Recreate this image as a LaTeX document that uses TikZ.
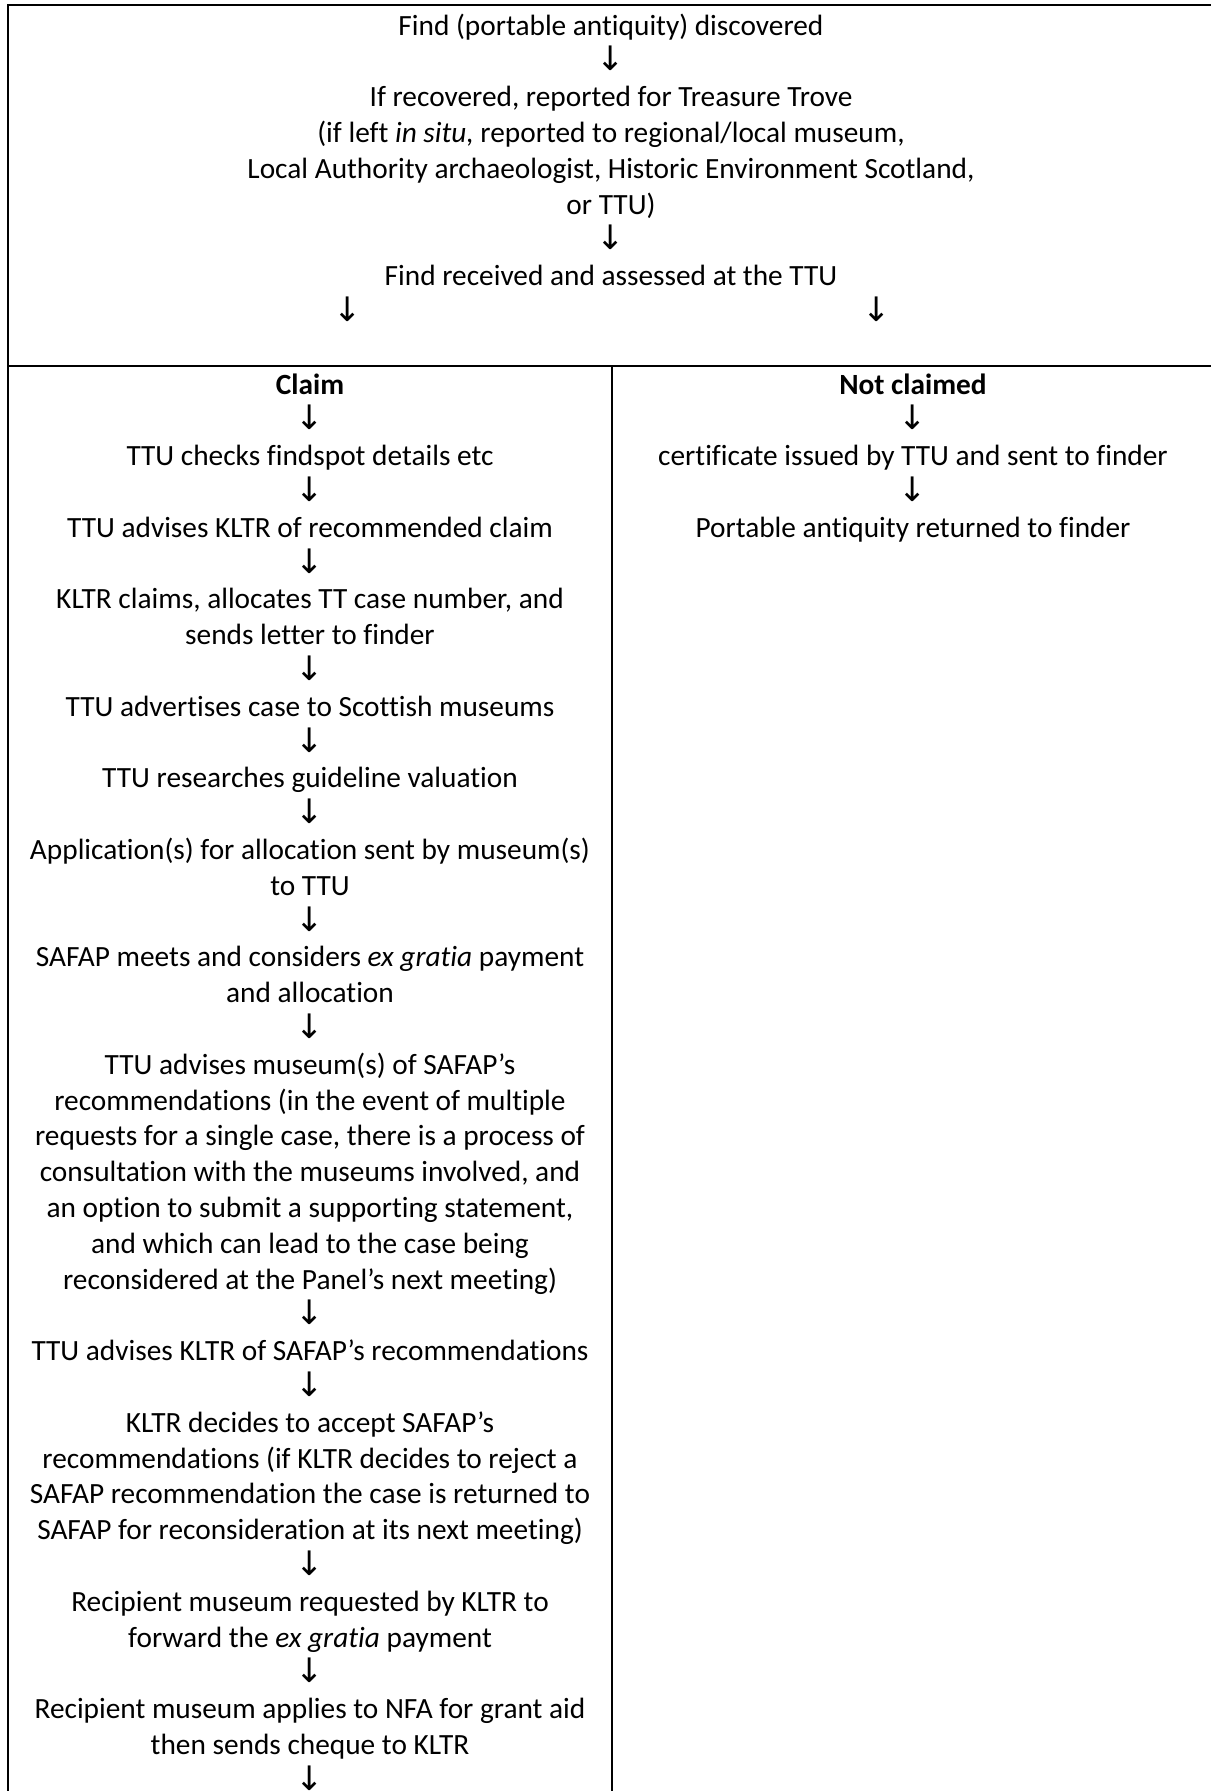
\documentclass[tikz,border=0pt]{standalone}
\usepackage{fontspec}
\setmainfont{Carlito}[Ligatures=NoCommon]
\newfontfamily\arrowfont{DejaVu Sans}[Scale=1.15]
\newcommand\tdown{{\arrowfont ↓}}
\tikzset{
  cell/.style={anchor=base, inner sep=0pt, font=\fontsize{11}{13.42}\selectfont},
  rule/.style={line width=0.75pt}
}
\begin{document}
\begin{tikzpicture}[x=0.375pt, y=-0.375pt]
\useasboundingbox (0,0) rectangle (1211,1791);
\clip (0,0) rectangle (1211,1791);
% table rules
\draw[rule] (7.5,1800) -- (7.5,5) -- (1214,5) -- (1214,1800);
\draw[rule] (7.5,366) -- (1214,366);
\draw[rule] (612,366) -- (612,1800);
% top cell
\foreach \t [count=\i] in {{Find (portable antiquity) discovered}, \tdown,
    {If recovered, reported for Treasure Trove},
    {(if left \textit{in situ,} reported to regional/local museum,},
    {Local Authority archaeologist, Historic Environment Scotland,},
    {or TTU)}, \tdown, {Find received and assessed at the TTU}}
  \node[cell] (top\i) at (611,{35+35.8*(\i-1)}) {\t};
\node[cell] (splitl) at (348,321.4) {\tdown};
\node[cell] (splitr) at (877,321.4) {\tdown};
% claim column
\foreach \t [count=\i] in {{\textbf{Claim}}, \tdown,
    {TTU checks findspot details etc}, \tdown,
    {TTU advises KLTR of recommended claim}, \tdown,
    {KLTR claims, allocates TT case number, and},
    {sends letter to finder}, \tdown,
    {TTU advertises case to Scottish museums}, \tdown,
    {TTU researches guideline valuation}, \tdown,
    {Application(s) for allocation sent by museum(s)},
    {to TTU}, \tdown,
    {SAFAP meets and considers \textit{ex gratia} payment},
    {and allocation}, \tdown,
    {TTU advises museum(s) of SAFAP’s},
    {recommendations (in the event of multiple},
    {requests for a single case, there is a process of},
    {consultation with the museums involved, and},
    {an option to submit a supporting statement,},
    {and which can lead to the case being},
    {reconsidered at the Panel’s next meeting)}, \tdown,
    {TTU advises KLTR of SAFAP’s recommendations}, \tdown,
    {KLTR decides to accept SAFAP’s},
    {recommendations (if KLTR decides to reject a},
    {SAFAP recommendation the case is returned to},
    {SAFAP for reconsideration at its next meeting)}, \tdown,
    {Recipient museum requested by KLTR to},
    {forward the \textit{ex gratia} payment}, \tdown,
    {Recipient museum applies to NFA for grant aid},
    {then sends cheque to KLTR}, \tdown}
  \node[cell] (claim\i) at (310,{394+35.8*(\i-1)}) {\t};
% not claimed column
\foreach \t [count=\i] in {{\textbf{Not claimed}}, \tdown,
    {certificate issued by TTU and sent to finder}, \tdown,
    {Portable antiquity returned to finder}}
  \node[cell] (noclaim\i) at (913,{394+35.8*(\i-1)}) {\t};
\end{tikzpicture}
\end{document}
